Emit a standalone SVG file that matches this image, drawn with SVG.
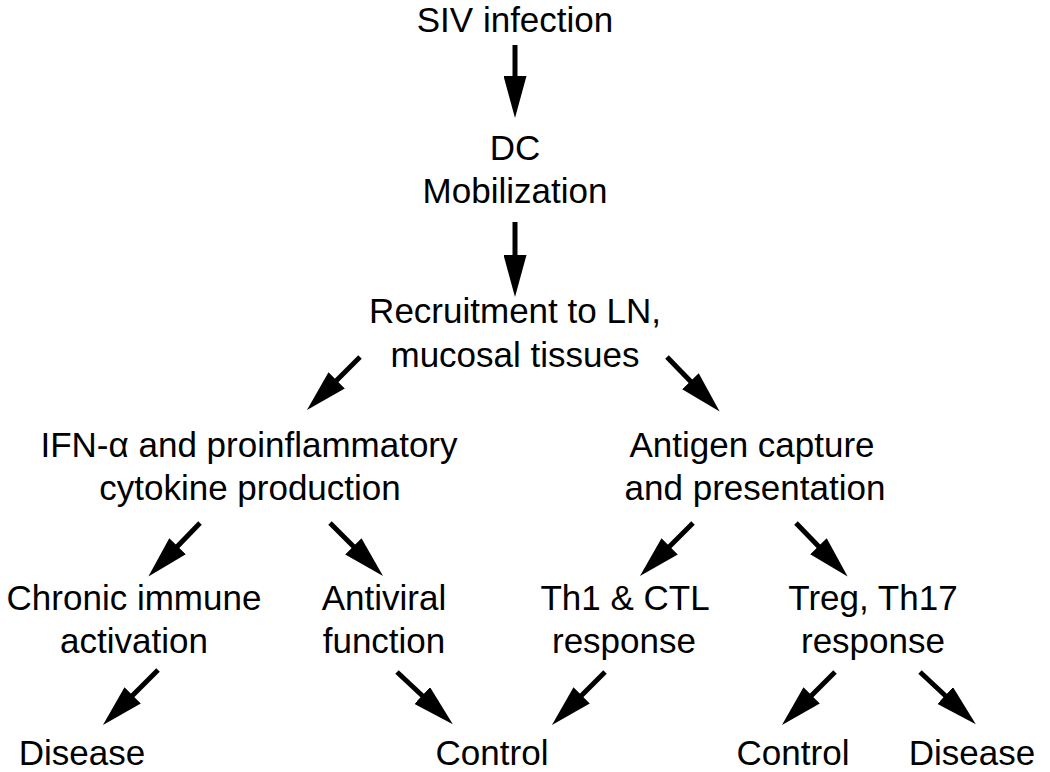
<svg xmlns="http://www.w3.org/2000/svg" width="1050" height="772" viewBox="0 0 1050 772">
<style>
text{font-family:"Liberation Sans",Arial,sans-serif;font-size:35px;fill:#000;text-anchor:middle}
.c{stroke:#000;stroke-width:5;fill:none;marker-end:url(#ah)}
</style>
<defs>
<marker id="ah" markerUnits="userSpaceOnUse" viewBox="0 0 42 23" markerWidth="42" markerHeight="23" refX="8" refY="11.5" orient="auto">
<path d="M0,0 L42,11.5 L0,23 z" fill="#000"/>
</marker>
</defs>
<rect width="1050" height="772" fill="#fff"/>
<g id="siv"><text x="515" y="32">SIV infection</text></g>
<g id="dc"><text x="515" y="160">DC</text><text x="515" y="203">Mobilization</text></g>
<g id="recruit"><text x="515" y="323">Recruitment to LN,</text><text x="515" y="367">mucosal tissues</text></g>
<g id="ifn"><text x="249" y="457">IFN-α and proinflammatory</text><text x="250" y="500">cytokine production</text></g>
<g id="antigen"><text x="752" y="457">Antigen capture</text><text x="755" y="500">and presentation</text></g>
<g id="chronic"><text x="134" y="610">Chronic immune</text><text x="134" y="653">activation</text></g>
<g id="antiviral"><text x="384" y="610">Antiviral</text><text x="384" y="653">function</text></g>
<g id="th1"><text x="625" y="610">Th1 &amp; CTL</text><text x="624" y="653">response</text></g>
<g id="treg"><text x="873" y="610">Treg, Th17</text><text x="873" y="653">response</text></g>
<g id="disease1"><text x="82" y="765">Disease</text></g>
<g id="control1"><text x="492" y="765">Control</text></g>
<g id="control2"><text x="793" y="765">Control</text></g>
<g id="disease2"><text x="972" y="765">Disease</text></g>
<g id="connectors">
<line class="c" x1="515" y1="45" x2="515" y2="84"/>
<line class="c" x1="515" y1="222" x2="515" y2="263"/>
<line class="c" x1="360" y1="357" x2="331" y2="386"/>
<line class="c" x1="667" y1="357" x2="696" y2="387"/>
<line class="c" x1="200" y1="523" x2="172" y2="552"/>
<line class="c" x1="330" y1="523" x2="359" y2="552"/>
<line class="c" x1="693" y1="523" x2="664" y2="552"/>
<line class="c" x1="796" y1="523" x2="824" y2="552"/>
<line class="c" x1="158" y1="670" x2="127" y2="701"/>
<line class="c" x1="397" y1="672" x2="428" y2="701"/>
<line class="c" x1="605" y1="672" x2="576" y2="701"/>
<line class="c" x1="835" y1="672" x2="806" y2="701"/>
<line class="c" x1="920" y1="672" x2="951" y2="701"/>
</g>
</svg>
